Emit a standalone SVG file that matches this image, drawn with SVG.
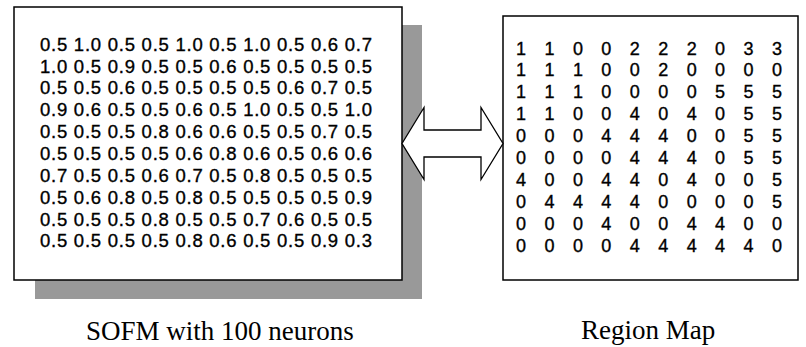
<svg xmlns="http://www.w3.org/2000/svg" width="806" height="347" viewBox="0 0 806 347">
<style>
.box{fill:#fff;stroke:#000;stroke-width:1.5}
.shadow{fill:#999}
.num{font-family:"Liberation Sans",Arial,sans-serif;font-size:18.5px;fill:#000;stroke:#000;stroke-width:0.35}
.reg{font-family:"Liberation Sans",Arial,sans-serif;font-size:18px;fill:#000;stroke:#000;stroke-width:0.35;text-anchor:middle}
.cap{font-family:"Liberation Serif","Times New Roman",serif;font-size:27px;fill:#000}
.arrow{fill:#fff;stroke:#000;stroke-width:1.3;stroke-linejoin:miter}
</style>
<rect width="806" height="347" fill="#fff"/>
<g id="sofm">
<rect class="shadow" x="35" y="25" width="387" height="274"/>
<rect class="box" x="14" y="7" width="388" height="273"/>
<text class="num" x="40" y="50.7" textLength="332" lengthAdjust="spacing">0.5 1.0 0.5 0.5 1.0 0.5 1.0 0.5 0.6 0.7</text>
<text class="num" x="40" y="72.5" textLength="332" lengthAdjust="spacing">1.0 0.5 0.9 0.5 0.5 0.6 0.5 0.5 0.5 0.5</text>
<text class="num" x="40" y="94.4" textLength="332" lengthAdjust="spacing">0.5 0.5 0.6 0.5 0.5 0.5 0.5 0.6 0.7 0.5</text>
<text class="num" x="40" y="116.2" textLength="332" lengthAdjust="spacing">0.9 0.6 0.5 0.5 0.6 0.5 1.0 0.5 0.5 1.0</text>
<text class="num" x="40" y="138.1" textLength="332" lengthAdjust="spacing">0.5 0.5 0.5 0.8 0.6 0.6 0.5 0.5 0.7 0.5</text>
<text class="num" x="40" y="159.9" textLength="332" lengthAdjust="spacing">0.5 0.5 0.5 0.5 0.6 0.8 0.6 0.5 0.6 0.6</text>
<text class="num" x="40" y="181.8" textLength="332" lengthAdjust="spacing">0.7 0.5 0.5 0.6 0.7 0.5 0.8 0.5 0.5 0.5</text>
<text class="num" x="40" y="203.6" textLength="332" lengthAdjust="spacing">0.5 0.6 0.8 0.5 0.8 0.5 0.5 0.5 0.5 0.9</text>
<text class="num" x="40" y="225.5" textLength="332" lengthAdjust="spacing">0.5 0.5 0.5 0.8 0.5 0.5 0.7 0.6 0.5 0.5</text>
<text class="num" x="40" y="247.3" textLength="332" lengthAdjust="spacing">0.5 0.5 0.5 0.5 0.8 0.6 0.5 0.5 0.9 0.3</text>
</g>
<g id="region-map">
<rect class="box" x="503" y="16" width="295" height="264"/>
<text class="reg" y="54.5"><tspan x="521">1</tspan><tspan x="549.4">1</tspan><tspan x="577.9">0</tspan><tspan x="606.3">0</tspan><tspan x="634.8">2</tspan><tspan x="663.2">2</tspan><tspan x="691.7">2</tspan><tspan x="720.1">0</tspan><tspan x="748.6">3</tspan><tspan x="777">3</tspan></text>
<text class="reg" y="76.4"><tspan x="521">1</tspan><tspan x="549.4">1</tspan><tspan x="577.9">1</tspan><tspan x="606.3">0</tspan><tspan x="634.8">0</tspan><tspan x="663.2">2</tspan><tspan x="691.7">0</tspan><tspan x="720.1">0</tspan><tspan x="748.6">0</tspan><tspan x="777">0</tspan></text>
<text class="reg" y="98.3"><tspan x="521">1</tspan><tspan x="549.4">1</tspan><tspan x="577.9">1</tspan><tspan x="606.3">0</tspan><tspan x="634.8">0</tspan><tspan x="663.2">0</tspan><tspan x="691.7">0</tspan><tspan x="720.1">5</tspan><tspan x="748.6">5</tspan><tspan x="777">5</tspan></text>
<text class="reg" y="120.2"><tspan x="521">1</tspan><tspan x="549.4">1</tspan><tspan x="577.9">0</tspan><tspan x="606.3">0</tspan><tspan x="634.8">4</tspan><tspan x="663.2">0</tspan><tspan x="691.7">4</tspan><tspan x="720.1">0</tspan><tspan x="748.6">5</tspan><tspan x="777">5</tspan></text>
<text class="reg" y="142.1"><tspan x="521">0</tspan><tspan x="549.4">0</tspan><tspan x="577.9">0</tspan><tspan x="606.3">4</tspan><tspan x="634.8">4</tspan><tspan x="663.2">4</tspan><tspan x="691.7">0</tspan><tspan x="720.1">0</tspan><tspan x="748.6">5</tspan><tspan x="777">5</tspan></text>
<text class="reg" y="164"><tspan x="521">0</tspan><tspan x="549.4">0</tspan><tspan x="577.9">0</tspan><tspan x="606.3">0</tspan><tspan x="634.8">4</tspan><tspan x="663.2">4</tspan><tspan x="691.7">4</tspan><tspan x="720.1">0</tspan><tspan x="748.6">5</tspan><tspan x="777">5</tspan></text>
<text class="reg" y="185.9"><tspan x="521">4</tspan><tspan x="549.4">0</tspan><tspan x="577.9">0</tspan><tspan x="606.3">4</tspan><tspan x="634.8">4</tspan><tspan x="663.2">0</tspan><tspan x="691.7">4</tspan><tspan x="720.1">0</tspan><tspan x="748.6">0</tspan><tspan x="777">5</tspan></text>
<text class="reg" y="207.8"><tspan x="521">0</tspan><tspan x="549.4">4</tspan><tspan x="577.9">4</tspan><tspan x="606.3">4</tspan><tspan x="634.8">4</tspan><tspan x="663.2">0</tspan><tspan x="691.7">0</tspan><tspan x="720.1">0</tspan><tspan x="748.6">0</tspan><tspan x="777">5</tspan></text>
<text class="reg" y="229.7"><tspan x="521">0</tspan><tspan x="549.4">0</tspan><tspan x="577.9">0</tspan><tspan x="606.3">4</tspan><tspan x="634.8">0</tspan><tspan x="663.2">0</tspan><tspan x="691.7">4</tspan><tspan x="720.1">4</tspan><tspan x="748.6">0</tspan><tspan x="777">0</tspan></text>
<text class="reg" y="251.6"><tspan x="521">0</tspan><tspan x="549.4">0</tspan><tspan x="577.9">0</tspan><tspan x="606.3">0</tspan><tspan x="634.8">4</tspan><tspan x="663.2">4</tspan><tspan x="691.7">4</tspan><tspan x="720.1">4</tspan><tspan x="748.6">4</tspan><tspan x="777">0</tspan></text>
</g>
<g id="connectors">
<path class="arrow" d="M402,143.5 L424,107.5 L424,130 L481,130 L481,107.5 L503,143.5 L481,179.5 L481,157 L424,157 L424,179.5 Z"/>
</g>
<g id="captions">
<text class="cap" x="86" y="340">SOFM with 100 neurons</text>
<text class="cap" x="581" y="339">Region Map</text>
</g>
</svg>
